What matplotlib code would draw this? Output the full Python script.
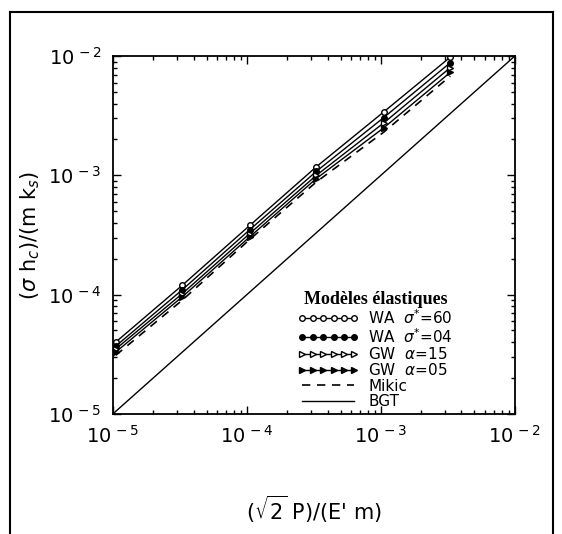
import numpy as np
import matplotlib
matplotlib.use("Agg")
import matplotlib.pyplot as plt
from matplotlib.lines import Line2D
from matplotlib.ticker import FixedLocator, FuncFormatter, LogLocator

# data
x_pts = [1.05e-5, 3.3e-5, 1.05e-4, 3.3e-4, 1.05e-3, 3.3e-3]
wa_60 = [4.0e-5, 1.2e-4, 3.8e-4, 1.18e-3, 3.4e-3, 9.8e-3]
wa_04 = [3.7e-5, 1.1e-4, 3.5e-4, 1.08e-3, 3.05e-3, 8.8e-3]
gw_15 = [3.5e-5, 1.02e-4, 3.25e-4, 1.0e-3, 2.75e-3, 8.0e-3]
gw_05 = [3.3e-5, 9.6e-5, 3.05e-4, 9.4e-4, 2.5e-3, 7.3e-3]
mikic = [3.1e-5, 9.0e-5, 2.9e-4, 8.8e-4, 2.3e-3, 6.8e-3]
bgt_x = [1e-5, 1e-2]

labels = ["WA  $\\sigma^{*}$=60", "WA  $\\sigma^{*}$=04", "GW  $\\alpha$=15",
          "GW  $\\alpha$=05", "Mikic", "BGT"]
decades = [1e-5, 1e-4, 1e-3, 1e-2]

plt.rcParams['font.family'] = ['DejaVu Sans']
plt.rcParams['mathtext.fontset'] = 'dejavusans'

fig = plt.figure(figsize=(5.62, 5.34), dpi=100)
ax = fig.add_axes([0.201, 0.225, 0.715, 0.670])

ax.plot(x_pts, wa_60, color='black', lw=1, marker='o', ms=4, mfc='white', mew=1, label=labels[0])
ax.plot(x_pts, wa_04, color='black', lw=1, marker='o', ms=4, mfc='black', mew=1, label=labels[1])
ax.plot(x_pts, gw_15, color='black', lw=1, marker='>', ms=4, mfc='white', mew=1, label=labels[2])
ax.plot(x_pts, gw_05, color='black', lw=1, marker='>', ms=4, mfc='black', mew=1, label=labels[3])
ax.plot(x_pts, mikic, color='black', lw=1.2, ls=(0, (5, 4)), label=labels[4])
ax.plot(bgt_x, bgt_x, color='black', lw=1, label=labels[5])

ax.set_xscale('log')
ax.set_yscale('log')
ax.set_xlim(1e-5, 1e-2)
ax.set_ylim(1e-5, 1e-2)

fmt = FuncFormatter(lambda v, p: "10$^{\\,%d}$" % int(round(np.log10(v))))
for axis in (ax.xaxis, ax.yaxis):
    axis.set_major_locator(FixedLocator(decades))
    axis.set_major_formatter(fmt)
    axis.set_minor_locator(LogLocator(base=10, subs=np.arange(2, 10)))
ax.tick_params(which='both', direction='in', top=True, right=True, labelsize=14, width=1)
ax.tick_params(which='major', length=6, pad=8)
ax.tick_params(which='minor', length=3)
for s in ax.spines.values():
    s.set_linewidth(1.3)

ax.set_xlabel("($\\sqrt{2}$ P)/(E' m)", fontsize=15, labelpad=34)
ax.set_ylabel("($\\sigma$ h$_c$)/(m k$_s$)", fontsize=15, labelpad=4)

leg = ax.legend(loc='lower right', bbox_to_anchor=(0.88, -0.025), frameon=False,
                fontsize=11, numpoints=6, handlelength=4.0, handletextpad=0.6,
                labelspacing=0.02, title="Modèles élastiques")
leg.get_title().set_fontfamily('Liberation Serif')
leg.get_title().set_fontweight('bold')
leg.get_title().set_fontsize(13)

# frame of the scanned page
fig.add_artist(Line2D([0.018, 0.018], [0.0, 0.978], color='black', lw=1.5, transform=fig.transFigure))
fig.add_artist(Line2D([0.018, 0.984], [0.978, 0.978], color='black', lw=1.5, transform=fig.transFigure))
fig.add_artist(Line2D([0.984, 0.984], [0.0, 0.978], color='black', lw=1.5, transform=fig.transFigure))

fig.savefig("out.png", dpi=100)
